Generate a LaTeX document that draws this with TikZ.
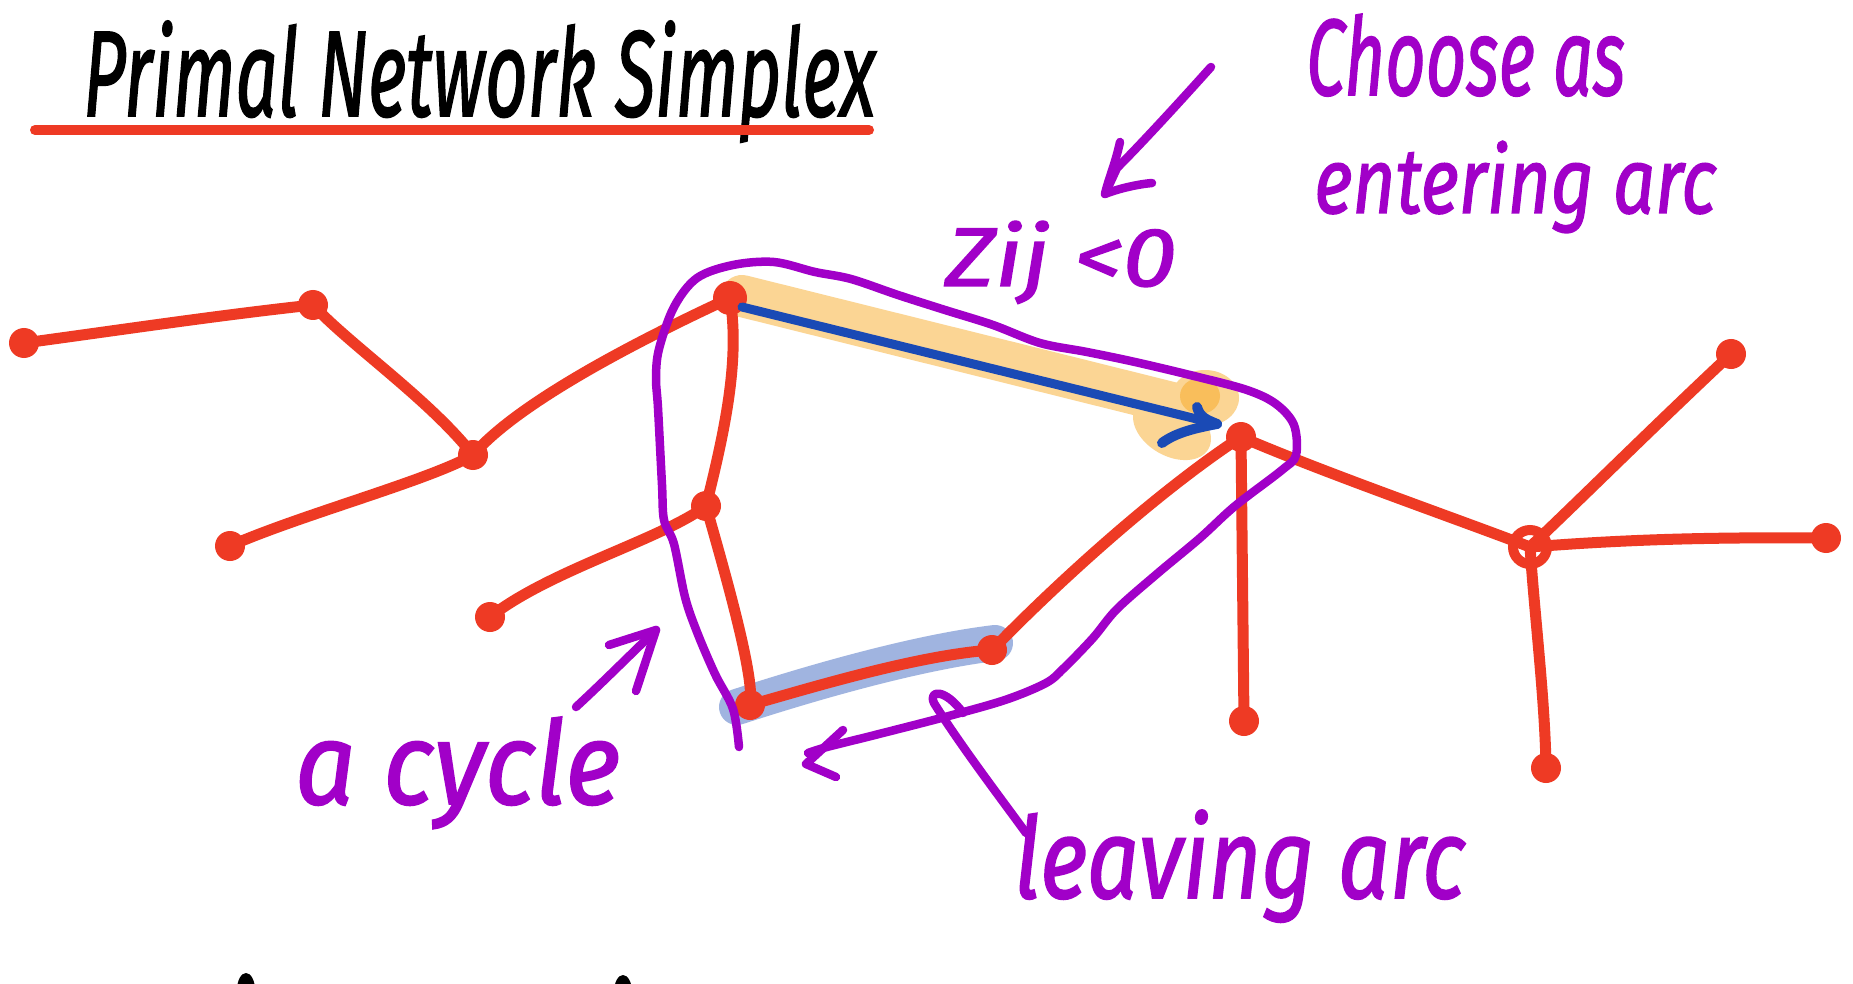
\documentclass[tikz,border=0pt]{standalone}
\usepackage{graphicx}
\usepackage{fontspec}
\newfontfamily\hand[FakeBold=1.6,ItalicFeatures={FakeBold=1.6}]{Fira Sans}
\definecolor{pred}{HTML}{EE3A24}
\definecolor{ppur}{HTML}{A100C8}
\definecolor{pblue}{HTML}{1A4AB5}
\definecolor{porange}{HTML}{FBD594}
\definecolor{porangeb}{HTML}{F9BE5B}
\definecolor{pblueh}{HTML}{A0B4E0}
\begin{document}
\begin{tikzpicture}[x=1pt,y=-1pt,
  redline/.style={draw=pred,line width=11pt,line cap=round,line join=round},
  rnode/.style={circle,fill=pred,minimum size=30pt,inner sep=0pt},
  purline/.style={draw=ppur,line width=8.5pt,line cap=round,line join=round},
  lbl/.style={inner sep=0pt,anchor=base west,text=ppur,font=\hand\itshape},
]
\useasboundingbox (0,0) rectangle (1853,984);
\fill[white] (0,0) rectangle (1853,984);

% title
\node[lbl,text=black] (title) at (83,116) {\resizebox{792pt}{95pt}{Primal Network Simplex}};
\coordinate (ul1) at (35,130);
\coordinate (ul2) at (869,130);
\draw[redline,line width=10pt] (ul1) -- (ul2);

% highlights
\draw[draw=porange,line width=42pt,line cap=round] (742,296) -- (1200,410);
\fill[porange,rotate around={-30:(1172,428)}] (1172,428) ellipse (42pt and 28pt);
\fill[porange] (1205,398) ellipse (34pt and 28pt);
\fill[porangeb] (1200,396) ellipse (20pt and 18pt);
\draw[draw=pblueh,line width=36pt,line cap=round] (737,707) .. controls (820,680) and (920,652) .. (995,643);

% red tree
\node[rnode] (A) at (24,343) {};
\node[rnode] (B) at (313,305) {};
\node[rnode] (C) at (473,455) {};
\node[rnode] (D) at (230,546) {};
\node[rnode,minimum size=34pt] (E) at (730,298) {};
\node[rnode] (F) at (706,506) {};
\node[rnode] (G) at (490,617) {};
\node[rnode] (H) at (750,705) {};
\node[rnode] (I) at (992,650) {};
\node[rnode] (J) at (1241,437) {};
\node[rnode] (K) at (1244,721) {};
\node[circle,draw=pred,line width=10pt,minimum size=34pt,inner sep=0pt] (L) at (1530,547) {};
\node[rnode] (M) at (1731,354) {};
\node[rnode] (N) at (1826,538) {};
\node[rnode] (O) at (1546,768) {};

\draw[redline] (A.center) .. controls (120,330) and (220,315) .. (B.center);
\draw[redline] (B.center) .. controls (350,345) and (430,400) .. (C.center);
\draw[redline] (C.center) .. controls (520,400) and (650,335) .. (E.center);
\draw[redline] (C.center) .. controls (430,480) and (300,515) .. (D.center);
\draw[redline] (E.center) .. controls (740,360) and (725,430) .. (F.center);
\draw[redline] (F.center) .. controls (660,540) and (550,570) .. (G.center);
\draw[redline] (F.center) .. controls (730,590) and (755,680) .. (H.center);
\draw[redline] (H.center) .. controls (820,685) and (920,655) .. (I.center);
\draw[redline] (I.center) .. controls (1060,580) and (1160,490) .. (J.center);
\draw[redline] (J.center) -- (K.center);
\draw[redline] (J.center) .. controls (1330,475) and (1460,520) .. (L.center);
\draw[redline] (L.center) .. controls (1590,490) and (1650,430) .. (M.center);
\draw[redline] (L.center) .. controls (1620,540) and (1700,537) .. (N.center);
\draw[redline] (L.center) .. controls (1535,620) and (1545,700) .. (O.center);

% entering arc (blue)
\coordinate (ea1) at (742,307);
\coordinate (ea2) at (1217,424);
\coordinate (eh1) at (1197,407);
\coordinate (eh2) at (1162,443);
\draw[pblue,line width=9pt,line cap=round,line join=round] (ea1) -- (ea2);
\draw[pblue,line width=10pt,line cap=round,line join=round] (eh1) .. controls (1200,418) and (1208,420) .. (ea2);
\draw[pblue,line width=10pt,line cap=round,line join=round] (eh2) .. controls (1175,433) and (1195,428) .. (ea2);

% purple cycle loop
\draw[purline] plot[smooth,tension=0.55] coordinates {
 (739,747) (733,709) (715,674) (697,632) (685,597) (674,544) (664,520)
 (662,485) (658,408) (656,378) (659,349) (674,307) (697,278) (733,265)
 (774,262) (815,272) (851,279) (898,295) (945,310) (993,325) (1040,343)
 (1087,352) (1135,362) (1194,376) (1247,390) (1276,404) (1294,425)
 (1296,455) (1282,470) (1235,506) (1200,538) (1158,573) (1117,609)
 (1093,638) (1064,668) (1046,683) (1005,700) (945,717) (875,735)
 (827,747) (808,753)};
\coordinate (lt) at (806,764);
\draw[purline] (843,730) -- (lt) -- (836,777);

% pointer: Zij<0 / choose as entering arc
\coordinate (ca1) at (1211,67);
\coordinate (ca2) at (1105,194);
\draw[purline] (ca1) .. controls (1176,106) and (1140,145) .. (1117,168) -- (ca2);
\draw[purline] (1120,142) .. controls (1115,165) and (1108,180) .. (ca2) .. controls (1120,188) and (1140,184) .. (1152,183);

% pointer: a cycle
\coordinate (cy1) at (576,707);
\coordinate (cy2) at (656,630);
\draw[purline] (cy1) .. controls (600,685) and (630,655) .. (cy2);
\draw[purline] (609,645) -- (cy2) -- (636,691);

% pointer: leaving arc
\coordinate (lv1) at (1026,833);
\draw[purline] (lv1) .. controls (1005,804) and (960,745) .. (934,703) .. controls (928,690) and (945,688) .. (963,713);

% labels
\node[lbl] (zij) at (945,286) {\resizebox{231pt}{65pt}{Zij \textless0}};
\node[lbl] (choose) at (1306,95) {\resizebox{319pt}{81pt}{Choose as}};
\node[lbl] (entering) at (1314,213) {\resizebox{402pt}{72pt}{entering arc}};
\node[lbl] (cycle) at (295,804) {\resizebox{325pt}{87pt}{a cycle}};
\node[lbl] (leaving) at (1014,898) {\resizebox{451pt}{88pt}{leaving arc}};

% cut-off strokes at the bottom edge
\begin{scope}
\clip (0,0) rectangle (1853,984);
\fill[black] (246,990) ellipse (9pt and 17pt);
\fill[black] (623,992) ellipse (9pt and 17pt);
\end{scope}
\end{tikzpicture}
\end{document}
